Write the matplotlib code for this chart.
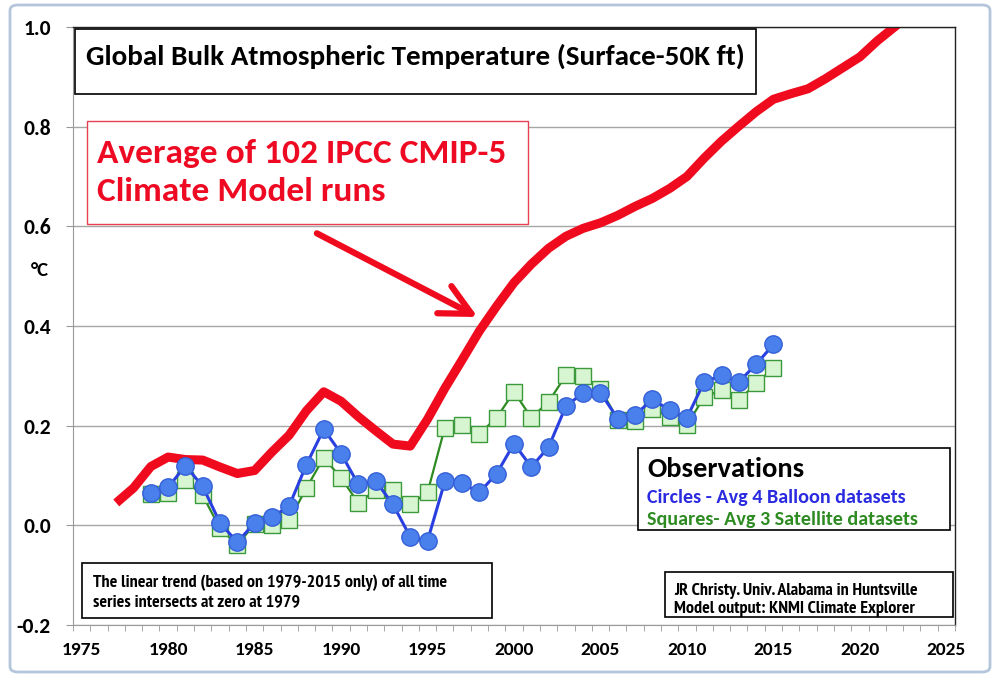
import matplotlib.pyplot as plt
from matplotlib.patches import Rectangle, FancyBboxPatch

# model average (red)
model_years = list(range(1977, 2024))
model = [0.045, 0.075, 0.118, 0.137, 0.132, 0.131, 0.117, 0.104, 0.110, 0.147,
         0.181, 0.230, 0.268, 0.249, 0.218, 0.190, 0.163, 0.159, 0.213, 0.275,
         0.332, 0.390, 0.440, 0.487, 0.524, 0.556, 0.580, 0.596, 0.607, 0.622,
         0.640, 0.656, 0.676, 0.700, 0.737, 0.771, 0.801, 0.830, 0.855, 0.866,
         0.876, 0.896, 0.918, 0.940, 0.972, 1.000, 1.030]

obs_years = list(range(1979, 2016))
# balloons (blue circles)
balloon = [0.064, 0.076, 0.120, 0.078, 0.005, -0.034, 0.005, 0.016, 0.039, 0.122,
           0.193, 0.144, 0.082, 0.089, 0.042, -0.023, -0.031, 0.088, 0.084, 0.066,
           0.104, 0.164, 0.117, 0.157, 0.239, 0.266, 0.266, 0.214, 0.221, 0.253,
           0.231, 0.216, 0.288, 0.301, 0.288, 0.323, 0.363]
# satellites (green squares)
satellite = [0.062, 0.064, 0.090, 0.060, -0.006, -0.040, 0.003, 0.000, 0.010, 0.075,
             0.136, 0.095, 0.045, 0.070, 0.070, 0.042, 0.066, 0.196, 0.201, 0.184,
             0.216, 0.268, 0.216, 0.248, 0.301, 0.299, 0.274, 0.212, 0.209, 0.234,
             0.217, 0.201, 0.258, 0.271, 0.251, 0.285, 0.315]

xlabels = [1975, 1980, 1985, 1990, 1995, 2000, 2005, 2010, 2015, 2020, 2025]
yticks = [-0.2, 0.0, 0.2, 0.4, 0.6, 0.8, 1.0]

FONT = 'Carlito'
NARROW = 'PT Sans Narrow'
W, H = 998, 679


def fx(px):
    return px / W


def fy(py):
    return 1 - py / H


fig = plt.figure(figsize=(9.98, 6.79), dpi=100)
ax = fig.add_axes([fx(73), fy(625), fx(955) - fx(73), fy(27) - fy(625)])

ax.plot(model_years, model, color='#F00A1E', lw=6.5, solid_capstyle='butt',
        solid_joinstyle='round', zorder=2)
ax.plot(obs_years, satellite, color='#2E8B22', lw=1.6, marker='s', ms=11,
        mfc='#D6F5D0', mec='#3C9A3C', mew=1.0, zorder=3)
ax.plot(obs_years, balloon, color='#2A3FE0', lw=2.2, marker='o', ms=12.5,
        mfc='#4A80EC', mec='#3560D8', mew=1.0, zorder=4)

ax.set_xlim(1974.5, 2025.5)
ax.set_ylim(-0.2, 1.0)
ax.set_xticks(xlabels)
ax.set_xticklabels([str(v) for v in xlabels], fontfamily=FONT, fontweight='bold',
                   fontsize=14)
ax.set_xticks([y + 0.5 for y in range(1974, 2026)], minor=True)
ax.tick_params(axis='x', which='major', length=0, pad=12)
ax.tick_params(axis='x', which='minor', length=4, direction='out', color='#999999')
ax.set_yticks(yticks)
ax.set_yticklabels(['%.1f' % v for v in yticks], fontfamily=FONT, fontweight='bold',
                   fontsize=15.5)
ax.tick_params(axis='y', length=5, direction='out', color='#999999', pad=11)

ax.yaxis.grid(True, color='#A6A6A6', lw=1.0)
ax.set_axisbelow(True)
for s in ['left', 'bottom']:
    ax.spines[s].set_color('#999999')
for s in ['top', 'right']:
    ax.spines[s].set_color('#222222')
    ax.spines[s].set_linewidth(1.0)

fig.text(fx(40), fy(271), '°C', fontfamily=FONT, fontweight='bold', fontsize=15,
         ha='center', va='center')

# outer chart frame
fig.patches.append(FancyBboxPatch((fx(10), fy(672)), fx(990) - fx(10), fy(5) - fy(672),
                                  boxstyle='round,pad=0,rounding_size=0.008',
                                  transform=fig.transFigure, fill=False,
                                  ec='#B4C6DC', lw=2))


def box(x0, y0, x1, y1, ec='black', lw=1.0):
    r = Rectangle((fx(x0), fy(y1)), fx(x1) - fx(x0), fy(y0) - fy(y1),
                  transform=fig.transFigure, fc='white', ec=ec, lw=lw,
                  zorder=6, clip_on=False)
    ax.add_patch(r)


def label(x, y, s, size, color='black', family=FONT):
    fig.text(fx(x), fy(y), s, color=color, fontfamily=family, fontweight='bold',
             fontsize=size, va='baseline', zorder=7)


box(75, 29, 756, 94, lw=1.2)
label(86, 65, 'Global Bulk Atmospheric Temperature (Surface-50K ft)', 21)

box(87, 121, 528, 224, ec='#E84050', lw=1.0)
label(97, 163, 'Average of 102 IPCC CMIP-5', 25.5, color='#EE0A22')
label(97, 201, 'Climate Model runs', 25.5, color='#EE0A22')

ax.annotate('', xy=(1997.9, 0.418), xytext=(1988.6, 0.586),
            arrowprops=dict(arrowstyle='->, head_length=1.1, head_width=0.55',
                            color='#F00A1E', lw=4.5, shrinkA=0, shrinkB=0,
                            mutation_scale=20), zorder=5)

box(638, 448, 950, 530, lw=1.2)
label(647, 477, 'Observations', 20.5)
label(647, 503, 'Circles - Avg 4 Balloon datasets', 14.5, color='#2A2AE0')
label(647, 525, 'Squares- Avg 3 Satellite datasets', 14.5, color='#2E8B22')

box(82, 563, 492, 618, lw=1.2)
label(93, 587, 'The linear trend (based on 1979-2015 only) of all time', 13,
      family=NARROW)
label(93, 606, 'series intersects at zero at 1979', 13, family=NARROW)

box(665, 572, 953, 617, lw=1.2)
label(674, 595, 'JR Christy. Univ. Alabama in Huntsville', 13, family=NARROW)
label(674, 613, 'Model output: KNMI Climate Explorer', 13, family=NARROW)

fig.savefig('out.png', dpi=100)
